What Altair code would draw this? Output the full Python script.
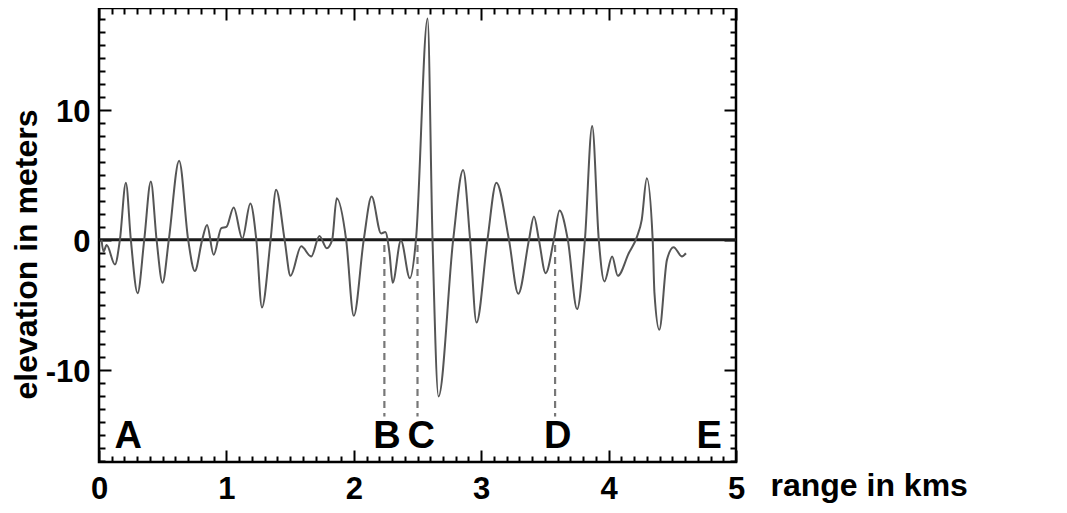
import altair as alt
import pandas as pd

# ---- data ----
range_km = [0.02, 0.035, 0.06, 0.125, 0.164, 0.211, 0.25, 0.303, 0.355, 0.407,
            0.452, 0.499, 0.548, 0.629, 0.70, 0.752, 0.81, 0.848, 0.90, 0.96,
            1.0, 1.057, 1.125, 1.188, 1.235, 1.279, 1.347, 1.39, 1.457, 1.503,
            1.587, 1.666, 1.73, 1.788, 1.83, 1.866, 1.94, 2.0, 2.078, 2.14,
            2.214, 2.247, 2.28, 2.305, 2.37, 2.44, 2.488, 2.579, 2.618, 2.665,
            2.78, 2.858, 2.913, 2.963, 3.049, 3.119, 3.218, 3.291, 3.375, 3.414,
            3.453, 3.506, 3.57, 3.615, 3.68, 3.753, 3.814, 3.871, 3.923, 3.967,
            4.028, 4.072, 4.158, 4.223, 4.26, 4.30, 4.346, 4.36, 4.398, 4.458,
            4.51, 4.576, 4.607]
elev_m = [0.0, -0.9, -0.4, -1.9, 0.0, 4.4, 0.0, -4.1, 0.0, 4.5,
          0.0, -3.3, 0.0, 6.1, 0.0, -2.4, 0.0, 1.15, -1.15, 0.9,
          1.0, 2.5, 0.1, 2.8, 0.0, -5.2, 0.0, 3.85, 0.0, -2.77,
          -0.5, -1.28, 0.3, -0.64, 0.0, 3.2, 0.0, -5.85, 0.0, 3.33,
          0.5, 0.6, -1.0, -3.3, -0.05, -2.95, 0.0, 17.05, 0.0, -12.05,
          0.0, 5.38, 0.0, -6.36, 0.0, 4.4, 0.0, -4.15, 0.0, 1.8,
          0.0, -2.56, 0.0, 2.26, 0.0, -5.33, 0.0, 8.77, 0.0, -3.2,
          -1.28, -2.77, -1.03, 0.25, 1.54, 4.74, 0.0, -4.1, -6.92, -1.54,
          -0.56, -1.28, -1.03]

marker_labels = ["A", "B", "C", "D", "E"]
marker_x = [0.23, 2.26, 2.53, 3.60, 4.79]
marker_y = [-16.0, -16.0, -16.0, -16.0, -16.0]

cut_x = [2.24, 2.50, 3.58]
cut_top = [-0.4, -0.4, -0.4]
cut_bottom = [-13.6, -13.6, -13.6]

x_major = [0, 1, 2, 3, 4, 5]
y_major = [-10, 0, 10]
x_minor = [round(i * 0.1, 1) for i in range(51)]
y_minor = list(range(-17, 18))
X_DOMAIN = [0, 5]
Y_DOMAIN = [-17.1, 17.85]

W, H = 637, 454
FONT = "Liberation Sans"

xs = alt.Scale(domain=X_DOMAIN, nice=False, zero=False)
ys = alt.Scale(domain=Y_DOMAIN, nice=False, zero=False)

x_tick_size = {"condition": {"test": "abs(datum.value - round(datum.value)) < 0.001", "value": 12}, "value": 6}
y_tick_size = {"condition": {"test": "abs(datum.value % 10) < 0.001", "value": 12}, "value": 6}

def tick_axis(orient, offset, values, size):
    return alt.Axis(orient=orient, offset=offset, values=values, labels=False,
                    domain=False, grid=False, ticks=True, tickSize=size,
                    tickWidth=2, tickColor="black", title=None)

profile = pd.DataFrame({"x": range_km, "y": elev_m})
line = alt.Chart(profile).mark_line(
    color="#555555", strokeWidth=2, interpolate="monotone"
).encode(
    x=alt.X("x:Q", scale=xs, axis=alt.Axis(
        orient="bottom", values=x_major, ticks=False, tickSize=0, domain=False, grid=False,
        labelFont=FONT, labelFontSize=31, labelFontWeight="bold", labelColor="black",
        labelPadding=12, labelFlush=False,
        title="range in kms", titleFont=FONT, titleFontSize=32, titleFontWeight="bold",
        titleColor="black", titleX=671, titleY=33, titleAlign="left",
        titleBaseline="alphabetic")),
    y=alt.Y("y:Q", scale=ys, axis=alt.Axis(
        orient="left", values=y_major, ticks=False, tickSize=0, domain=False, grid=False,
        labelFont=FONT, labelFontSize=31, labelFontWeight="bold", labelColor="black",
        labelPadding=9, labelBaseline="middle", labelOffset=3,
        labelExpr="datum.value < 0 ? '-' + abs(datum.value) : datum.label",
        title="elevation in meters", titleFont=FONT, titleFontSize=32,
        titleFontWeight="bold", titleColor="black", titleX=-73, titleY=246,
        titleAngle=270, titleAlign="center", titleBaseline="middle")),
)

zero = alt.Chart(pd.DataFrame({"y": [0]})).mark_rule(
    color="#1a1a1a", strokeWidth=3
).encode(y=alt.Y("y:Q", scale=ys, axis=None))

cuts = pd.DataFrame({"x": cut_x, "y": cut_top, "y2": cut_bottom})
dashed = alt.Chart(cuts).mark_rule(
    color="#777777", strokeWidth=2.2, strokeDash=[7, 5]
).encode(
    x=alt.X("x:Q", scale=xs, axis=tick_axis("top", -H, x_minor, x_tick_size)),
    y=alt.Y("y:Q", scale=ys, axis=tick_axis("right", -W, y_minor, y_tick_size)),
    y2="y2:Q",
)

marks = pd.DataFrame({"label": marker_labels, "x": marker_x, "y": marker_y})
letters = alt.Chart(marks).mark_text(
    font=FONT, fontSize=38, fontWeight="bold", color="black",
    align="center", baseline="alphabetic"
).encode(
    x=alt.X("x:Q", scale=xs, axis=tick_axis("bottom", -H, x_minor, x_tick_size)),
    y=alt.Y("y:Q", scale=ys, axis=tick_axis("left", -W, y_minor, y_tick_size)),
    text="label:N",
)

chart = alt.layer(zero, line, dashed, letters).resolve_axis(
    x="independent", y="independent"
).properties(
    width=W, height=H,
    autosize=alt.AutoSizeParams(type="none"),
    padding={"left": 91, "top": 0, "right": 300, "bottom": 44},
    background="white",
).configure_view(stroke="black", strokeWidth=2.5)

chart.save("out.html", embed_options={"renderer": "svg", "actions": False})
